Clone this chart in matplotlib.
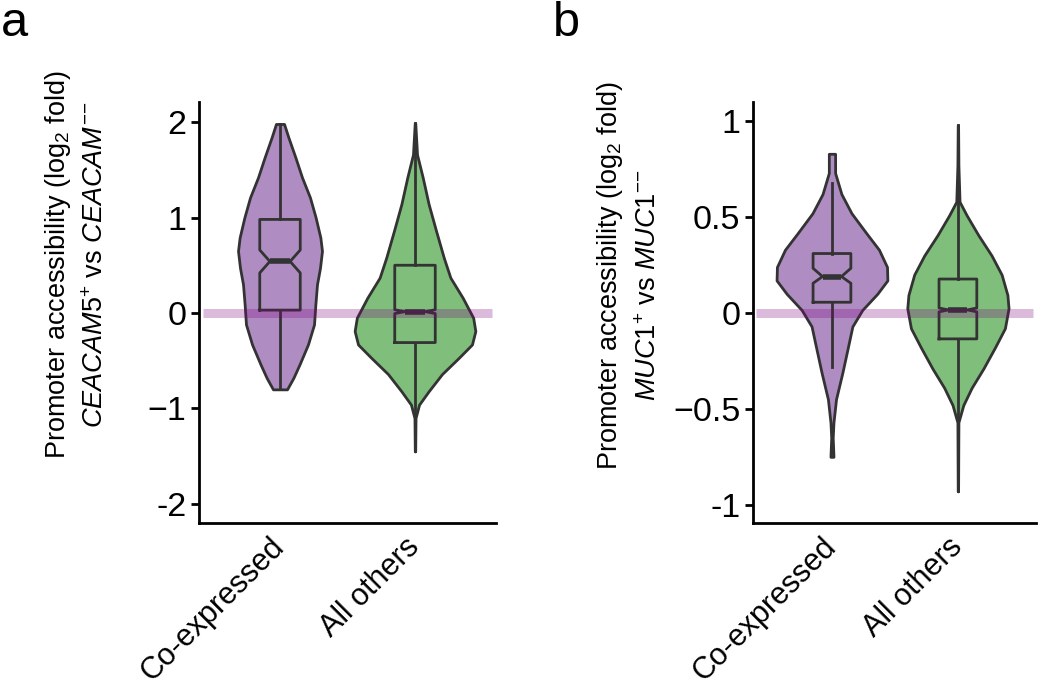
import numpy as np
import matplotlib
matplotlib.use("Agg")
import matplotlib.pyplot as plt
from matplotlib.transforms import ScaledTranslation

plt.rcParams['font.family'] = ['Liberation Sans', 'DejaVu Sans']
plt.rcParams['mathtext.fontset'] = 'custom'
plt.rcParams['mathtext.rm'] = 'Liberation Sans'
plt.rcParams['mathtext.it'] = 'Liberation Sans:italic'
plt.rcParams['mathtext.bf'] = 'Liberation Sans:bold'

# ---------------- data ----------------
categories = ["Co-expressed", "All others"]
purple = "#af8dc3"
green = "#7fbf7b"
edge = "#333333"

# Panel a violin profiles (value, half width in category units)
a_co_y = [1.98, 1.84, 1.63, 1.42, 1.21, 1.00, 0.79, 0.65, 0.47, 0.30, 0.09, -0.12, -0.33, -0.54, -0.68, -0.80]
a_co_w = [0.030, 0.062, 0.114, 0.163, 0.222, 0.264, 0.299, 0.311, 0.296, 0.274, 0.262, 0.252, 0.207, 0.144, 0.099, 0.052]
a_oth_y = [1.99, 1.66, 1.42, 1.14, 0.86, 0.58, 0.37, 0.16, -0.05, -0.19, -0.33, -0.47, -0.64, -0.82, -0.96, -1.10, -1.45]
a_oth_w = [0.002, 0.015, 0.057, 0.101, 0.156, 0.213, 0.262, 0.353, 0.431, 0.447, 0.422, 0.324, 0.200, 0.101, 0.030, 0.004, 0.0015]

# Panel b violin profiles
b_co_y = [0.83, 0.73, 0.62, 0.52, 0.415, 0.33, 0.24, 0.17, 0.10, 0.016, -0.07, -0.18, -0.31, -0.45, -0.57, -0.65, -0.75]
b_co_w = [0.025, 0.025, 0.075, 0.155, 0.274, 0.373, 0.437, 0.440, 0.360, 0.241, 0.162, 0.126, 0.083, 0.032, 0.012, 0.006, 0.012]
b_oth_y = [0.98, 0.77, 0.58, 0.51, 0.406, 0.30, 0.20, 0.094, 0.024, -0.08, -0.18, -0.29, -0.39, -0.48, -0.57, -0.93]
b_oth_w = [0.0015, 0.004, 0.013, 0.069, 0.162, 0.267, 0.347, 0.393, 0.402, 0.373, 0.294, 0.202, 0.109, 0.043, 0.004, 0.0015]

# box statistics: med, q1, q3, whislo, whishi, cilo, cihi
a_co_box = [0.54, 0.03, 0.98, -0.80, 1.98, 0.42, 0.66]
a_oth_box = [0.014, -0.31, 0.50, -1.45, 1.99, -0.006, 0.034]
b_co_box = [0.19, 0.056, 0.31, -0.28, 0.68, 0.155, 0.233]
b_oth_box = [0.016, -0.135, 0.177, -0.93, 0.98, 0.006, 0.026]

a_ticks = [-2, -1, 0, 1, 2]
a_ticklabels = ["-2", "\u22121", "0", "1", "2"]
b_ticks = [-1, -0.5, 0, 0.5, 1]
b_ticklabels = ["-1", "\u22120.5", "0", "0.5", "1"]

# ---------------- figure ----------------
W, H = 1050, 695
fig = plt.figure(figsize=(W / 100, H / 100), dpi=100)


def px_axes(l, t, r, b):
    return fig.add_axes([l / W, 1 - b / H, (r - l) / W, (b - t) / H])


def stats(v):
    return dict(med=v[0], q1=v[1], q3=v[2], whislo=v[3], whishi=v[4],
                cilo=v[5], cihi=v[6], fliers=[])


def panel(ax, profiles, boxes, ticks, ticklabels, ylim, xlim):
    for pos, (yy, ww, col) in enumerate(profiles):
        yy = np.asarray(yy)
        ww = np.asarray(ww)
        ax.fill_betweenx(yy, pos - ww, pos + ww, facecolor=col, edgecolor=edge,
                         linewidth=2.0, joinstyle='round', zorder=1)
    ax.bxp([stats(b) for b in boxes], positions=[0, 1], widths=0.30,
           shownotches=True, showcaps=False, showfliers=False,
           boxprops=dict(color=edge, linewidth=2.0),
           whiskerprops=dict(color=edge, linewidth=2.0),
           medianprops=dict(color=edge, linewidth=4.0, solid_capstyle='butt'),
           zorder=2, manage_ticks=False)
    ax.axhline(0, xmin=0.012, xmax=0.988, color='purple', alpha=0.27,
               linewidth=6.5, zorder=3, solid_capstyle='butt')
    ax.set_xlim(*xlim)
    ax.set_ylim(*ylim)
    ax.set_yticks(ticks)
    ax.set_yticklabels(ticklabels, fontsize=24.5)
    ax.set_xticks([0, 1])
    ax.set_xticklabels(categories, rotation=45, ha='right', va='center',
                       rotation_mode='anchor', fontsize=22)
    off = ScaledTranslation(16 / 100, 8 / 100, fig.dpi_scale_trans)
    for lab in ax.get_xticklabels():
        lab.set_transform(lab.get_transform() + off)
    for s in ['top', 'right']:
        ax.spines[s].set_visible(False)
    for s in ['left', 'bottom']:
        ax.spines[s].set_linewidth(2.0)
        ax.spines[s].set_color('black')
    ax.tick_params(axis='y', length=6, width=2.0, pad=3, color='black')
    ax.tick_params(axis='x', length=0, pad=14)
    ax.patch.set_visible(False)


axa = px_axes(199, 102, 496, 523)
panel(axa, [(a_co_y, a_co_w, purple), (a_oth_y, a_oth_w, green)],
      [a_co_box, a_oth_box], a_ticks, a_ticklabels, (-2.2, 2.21), (-0.6, 1.6))

axb = px_axes(753, 102, 1036, 523)
panel(axb, [(b_co_y, b_co_w, purple), (b_oth_y, b_oth_w, green)],
      [b_co_box, b_oth_box], b_ticks, b_ticklabels, (-1.095, 1.1), (-0.627, 1.62))

# y labels (two lines each)
lab_fs = 19.5
fig.text(58 / W, 1 - 265 / H, "Promoter accessibility (log$_2$ fold)", rotation=90,
         ha='center', va='center', fontsize=lab_fs)
fig.text(96 / W, 1 - 264 / H, r"$\mathit{CEACAM5}^{+}$ vs $\mathit{CEACAM}^{-\!-}$", rotation=90,
         ha='center', va='center', fontsize=lab_fs)
fig.text(610 / W, 1 - 276 / H, "Promoter accessibility (log$_2$ fold)", rotation=90,
         ha='center', va='center', fontsize=lab_fs)
fig.text(649 / W, 1 - 285 / H, r"$\mathit{MUC1}^{+}$ vs $\mathit{MUC1}^{-\!-}$", rotation=90,
         ha='center', va='center', fontsize=lab_fs)

# panel letters
fig.text(1 / W, 1 - 36 / H, "a", fontsize=35, ha='left', va='baseline')
fig.text(553 / W, 1 - 36 / H, "b", fontsize=35, ha='left', va='baseline')

fig.savefig("out.png", dpi=100)
